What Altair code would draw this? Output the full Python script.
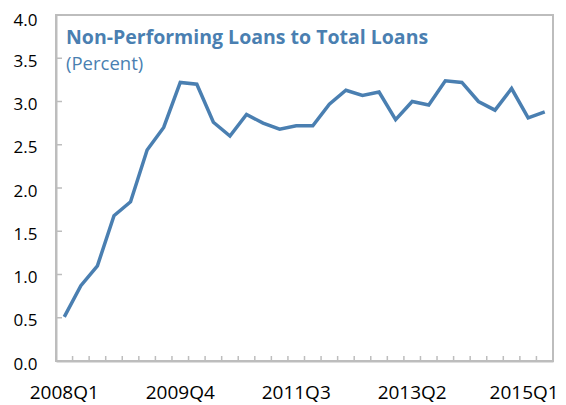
import altair as alt
import pandas as pd

quarters = [
    "2008Q1", "2008Q2", "2008Q3", "2008Q4",
    "2009Q1", "2009Q2", "2009Q3", "2009Q4",
    "2010Q1", "2010Q2", "2010Q3", "2010Q4",
    "2011Q1", "2011Q2", "2011Q3", "2011Q4",
    "2012Q1", "2012Q2", "2012Q3", "2012Q4",
    "2013Q1", "2013Q2", "2013Q3", "2013Q4",
    "2014Q1", "2014Q2", "2014Q3", "2014Q4",
    "2015Q1", "2015Q2",
]
npl = [
    0.51, 0.87, 1.10, 1.68, 1.84, 2.44, 2.70, 3.22, 3.20, 2.76,
    2.60, 2.85, 2.75, 2.68, 2.72, 2.72, 2.97, 3.13, 3.07, 3.11,
    2.79, 3.00, 2.96, 3.24, 3.22, 3.00, 2.90, 3.15, 2.81, 2.88,
]
label_quarters = ["2008Q1", "2009Q4", "2011Q3", "2013Q2", "2015Q1"]
y_ticks = [0.0, 0.5, 1.0, 1.5, 2.0, 2.5, 3.0, 3.5, 4.0]

title_text = "Non-Performing Loans to Total Loans"
subtitle_text = "(Percent)"

BLUE = "#4a7fb1"
GRAY = "#bdbdbd"
FONT = "Open Sans"
W, H = 497, 346

df = pd.DataFrame({"quarter": quarters, "npl": npl})
tick_df = pd.DataFrame({"quarter": quarters})
ytick_df = pd.DataFrame({"v": y_ticks})

x_scale = alt.Scale(type="band", domain=quarters, paddingInner=0, paddingOuter=0)
y_scale = alt.Scale(domain=[0, 4], nice=False)

x_axis = alt.Axis(
    values=label_quarters, labelAngle=0, labelAlign="center", bandPosition=0.5,
    labelOffset={"condition": {"test": "datum.label == '2015Q1'", "value": -4}, "value": 0},
    title=None, ticks=False, labelFontSize=19, labelColor="black", labelFont=FONT,
    labelPadding=22, labelBaseline="top", domainColor=GRAY, domainWidth=2,
    grid=False,
)
y_axis = alt.Axis(
    values=y_ticks, format=".1f", title=None, ticks=False,
    labelFontSize=17, labelColor="black", labelFont=FONT, labelPadding=19,
    labelOffset={"condition": {"test": "datum.value == 4", "value": 5}, "value": 3},
    domainColor=GRAY, domainWidth=2, grid=False,
)

line = alt.Chart(df).mark_line(color=BLUE, strokeWidth=3.5, strokeJoin="miter").encode(
    x=alt.X("quarter:O", scale=x_scale, axis=x_axis, sort=quarters),
    y=alt.Y("npl:Q", scale=y_scale, axis=y_axis),
)

xticks = alt.Chart(tick_df).mark_rule(color=GRAY, strokeWidth=1.5).encode(
    x=alt.X("quarter:O", scale=x_scale, bandPosition=0, sort=quarters),
    y=alt.value(H - 5),
    y2=alt.value(H),
)

yticks = alt.Chart(ytick_df).mark_rule(color=GRAY, strokeWidth=1.5).encode(
    y=alt.Y("v:Q", scale=y_scale),
    x=alt.value(0),
    x2=alt.value(6),
)

title = alt.Chart(pd.DataFrame({"t": [title_text]})).mark_text(
    align="left", baseline="alphabetic", font=FONT, fontSize=19.5, fontWeight="bold", color=BLUE
).encode(x=alt.value(10), y=alt.value(29), text="t:N")

subtitle = alt.Chart(pd.DataFrame({"t": [subtitle_text]})).mark_text(
    align="left", baseline="alphabetic", font=FONT, fontSize=18.5, color=BLUE
).encode(x=alt.value(10), y=alt.value(55), text="t:N")

chart = alt.layer(line, xticks, yticks, title, subtitle).properties(
    width=W, height=H,
    autosize=alt.AutoSizeParams(type="none"),
    padding={"left": 48, "top": 7, "right": 5, "bottom": 42},
).configure_view(stroke=GRAY, strokeWidth=2)

chart.save("out.html", embed_options={"renderer": "svg", "actions": False})
